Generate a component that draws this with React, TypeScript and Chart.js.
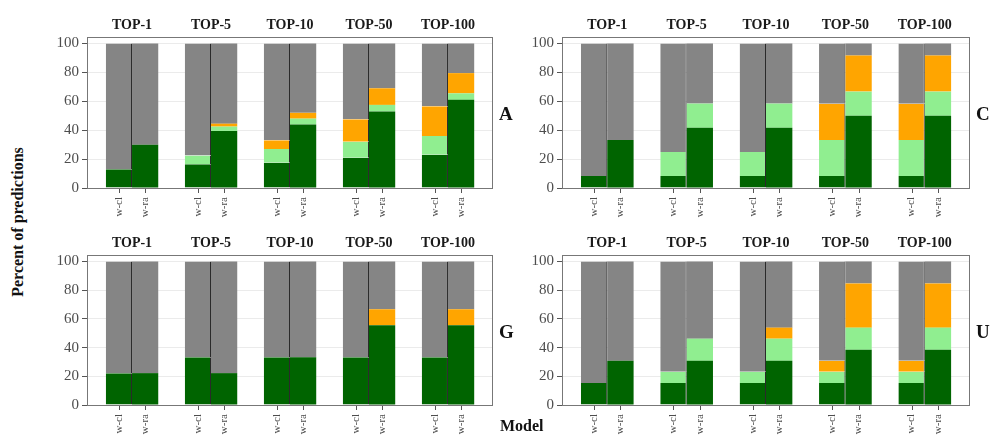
import React, { useEffect, useRef } from "react";
import { Chart, registerables } from "chart.js";
Chart.register(...registerables);

const groups = ["TOP-1", "TOP-5", "TOP-10", "TOP-50", "TOP-100"];
const models = ["w-cl", "w-ra"];
const seriesNames = ["Exact", "Similar", "Partial", "Other"];
const seriesColors = ["#006400", "#90EE90", "#FFA500", "#858585"];

// Panel A
const A_m1_dark = [13, 16.5, 17.5, 21, 23];
const A_m1_light = [0, 6, 9.5, 11, 13];
const A_m1_orange = [0, 0, 6, 15.5, 20.5];
const A_m2_dark = [30, 39.5, 44, 53, 61];
const A_m2_light = [0, 3, 4, 4.5, 4.5];
const A_m2_orange = [0, 2, 4, 11.5, 14];

// Panel C
const C_m1_dark = [8.3, 8.3, 8.3, 8.3, 8.3];
const C_m1_light = [0, 16.7, 16.7, 25, 25];
const C_m1_orange = [0, 0, 0, 25, 25];
const C_m2_dark = [33.3, 41.7, 41.7, 50, 50];
const C_m2_light = [0, 16.7, 16.7, 16.7, 16.7];
const C_m2_orange = [0, 0, 0, 25, 25];

// Panel G
const G_m1_dark = [22.2, 33.3, 33.3, 33.3, 33.3];
const G_m1_light = [0, 0, 0, 0, 0];
const G_m1_orange = [0, 0, 0, 0, 0];
const G_m2_dark = [22.2, 22.2, 33.3, 55.6, 55.6];
const G_m2_light = [0, 0, 0, 0, 0];
const G_m2_orange = [0, 0, 0, 11.1, 11.1];

// Panel U
const U_m1_dark = [15.4, 15.4, 15.4, 15.4, 15.4];
const U_m1_light = [0, 7.7, 7.7, 7.7, 7.7];
const U_m1_orange = [0, 0, 0, 7.7, 7.7];
const U_m2_dark = [30.8, 30.8, 30.8, 38.5, 38.5];
const U_m2_light = [0, 15.4, 15.4, 15.4, 15.4];
const U_m2_orange = [0, 0, 7.7, 30.8, 30.8];

const yTickStep = 20;
const FONT = "'Liberation Serif', 'DejaVu Serif', serif";

type PanelProps = {
  letter: string;
  m1: number[][];
  m2: number[][];
  left: number;
  top: number;
  width: number;
  height: number;
  yAxisW: number;
  padRight: number;
  bottomH: number;
};

function withRest(parts: number[][]): number[][] {
  const rest = groups.map((_, i) => 100 - parts.reduce((s, p) => s + p[i], 0));
  return [...parts, rest];
}

function Panel(p: PanelProps) {
  const ref = useRef<HTMLCanvasElement>(null);
  useEffect(() => {
    if (!ref.current) return;
    const all = [withRest(p.m1), withRest(p.m2)];
    const datasets: any[] = [];
    all.forEach((series, m) => {
      series.forEach((vals, s) => {
        datasets.push({
          label: seriesNames[s] + " " + models[m],
          data: groups.map((_, i) => ({ x: i + 1, y: vals[i] })),
          backgroundColor: seriesColors[s],
          borderColor: "#2a2a2a",
          borderWidth: m === 0 ? { top: 0, right: 1, bottom: 0, left: 0 } : 0,
          borderSkipped: false,
          stack: "m" + m,
          categoryPercentage: 0.664,
          barPercentage: 1,
        });
      });
    });
    const decor = {
      id: "decor",
      afterDraw(chart: any) {
        const { ctx, chartArea: a } = chart;
        const xs = chart.scales.x;
        ctx.save();
        ctx.strokeStyle = "#777777";
        ctx.lineWidth = 1;
        ctx.strokeRect(Math.round(a.left) + 0.5, Math.round(a.top) + 0.5, Math.round(a.right - a.left) - 1, Math.round(a.bottom - a.top));
        // facet strip labels
        ctx.fillStyle = "#1a1a1a";
        ctx.font = "bold 14px " + FONT;
        ctx.textAlign = "center";
        ctx.textBaseline = "middle";
        groups.forEach((g, i) => {
          ctx.fillText(g, xs.getPixelForValue(i + 1), a.top - 12);
        });
        // bar labels
        [0, seriesNames.length].forEach((di, m) => {
          const meta = chart.getDatasetMeta(di);
          meta.data.forEach((el: any) => {
            const x = Math.round(el.x) + 0.5;
            ctx.strokeStyle = "#555555";
            ctx.beginPath();
            ctx.moveTo(x, a.bottom + 1);
            ctx.lineTo(x, a.bottom + 5);
            ctx.stroke();
            ctx.save();
            ctx.translate(el.x, a.bottom + 9);
            ctx.rotate(-Math.PI / 2);
            ctx.fillStyle = "#4d4d4d";
            ctx.font = "11px " + FONT;
            ctx.textAlign = "right";
            ctx.textBaseline = "middle";
            ctx.fillText(models[m], 0, 0);
            ctx.restore();
          });
        });
        // panel letter
        ctx.fillStyle = "#111111";
        ctx.font = "bold 19px " + FONT;
        ctx.textAlign = "left";
        ctx.textBaseline = "middle";
        ctx.fillText(p.letter, a.right + 6, (a.top + a.bottom) / 2 + 3);
        ctx.restore();
      },
    };
    const chart = new Chart(ref.current, {
      type: "bar",
      data: { datasets },
      plugins: [decor],
      options: {
        animation: false,
        responsive: false,
        maintainAspectRatio: false,
        devicePixelRatio: 1,
        layout: { padding: { top: 37, right: p.padRight, left: 0, bottom: 0 } },
        plugins: { legend: { display: false }, tooltip: { enabled: false } },
        scales: {
          x: {
            type: "linear",
            min: 0.43,
            max: 5.57,
            offset: false,
            grid: { display: false },
            border: { display: false },
            ticks: { display: false, stepSize: 1, includeBounds: false },
            afterFit: (s: any) => {
              s.height = p.bottomH;
            },
          },
          y: {
            stacked: true,
            min: 0,
            max: 104.5,
            grid: { color: "#ebebeb", tickColor: "#555555", tickLength: 5 },
            border: { display: true, color: "#777777" },
            ticks: {
              stepSize: yTickStep,
              includeBounds: false,
              color: "#4d4d4d",
              padding: 3,
              font: { family: FONT, size: 15 },
            },
            afterFit: (s: any) => {
              s.width = p.yAxisW;
            },
          },
        },
      } as any,
    });
    return () => chart.destroy();
  }, []);
  return (
    <canvas
      ref={ref}
      width={p.width}
      height={p.height}
      style={{ position: "absolute", left: p.left, top: p.top, width: p.width, height: p.height }}
    />
  );
}

export default function App() {
  return (
    <div
      style={{
        position: "absolute",
        left: 0,
        top: 0,
        width: 991,
        height: 437,
        background: "#ffffff",
        overflow: "hidden",
      }}
    >
      <Panel letter="A" m1={[A_m1_dark, A_m1_light, A_m1_orange]} m2={[A_m2_dark, A_m2_light, A_m2_orange]}
        left={30} top={0} width={490} height={218} yAxisW={57} padRight={27} bottomH={30} />
      <Panel letter="C" m1={[C_m1_dark, C_m1_light, C_m1_orange]} m2={[C_m2_dark, C_m2_light, C_m2_orange]}
        left={520} top={0} width={471} height={218} yAxisW={42} padRight={21} bottomH={30} />
      <Panel letter="G" m1={[G_m1_dark, G_m1_light, G_m1_orange]} m2={[G_m2_dark, G_m2_light, G_m2_orange]}
        left={30} top={218} width={490} height={219} yAxisW={57} padRight={27} bottomH={32} />
      <Panel letter="U" m1={[U_m1_dark, U_m1_light, U_m1_orange]} m2={[U_m2_dark, U_m2_light, U_m2_orange]}
        left={520} top={218} width={471} height={219} yAxisW={42} padRight={21} bottomH={32} />
      <div
        style={{
          position: "absolute",
          left: 18,
          top: 222,
          transform: "translate(-50%, -50%) rotate(-90deg)",
          font: "bold 16px " + FONT,
          color: "#111",
          whiteSpace: "nowrap",
        }}
      >
        Percent of predictions
      </div>
      <div
        style={{
          position: "absolute",
          left: 500,
          top: 417,
          font: "bold 16px " + FONT,
          color: "#111",
          whiteSpace: "nowrap",
          lineHeight: "18px",
        }}
      >
        Model
      </div>
    </div>
  );
}
